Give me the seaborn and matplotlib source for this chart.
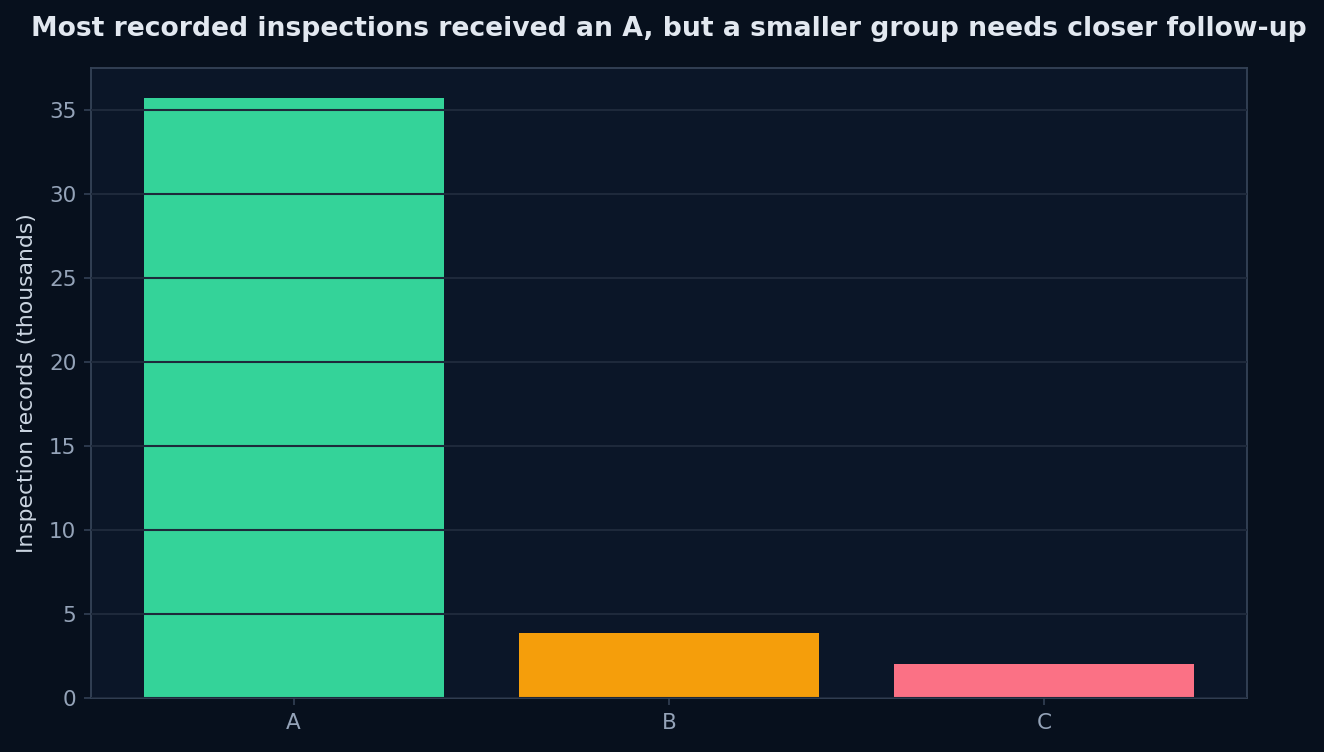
import matplotlib
matplotlib.use("Agg")
import matplotlib.pyplot as plt
import seaborn as sns
import pandas as pd

grades = ["A", "B", "C"]
records_thousands = [35.71, 3.87, 2.02]
bar_colors = ["#34d399", "#f59e0b", "#fb7185"]

title = "Most recorded inspections received an A, but a smaller group needs closer follow-up"
ylabel = "Inspection records (thousands)"

sns.set_theme(style="dark")
plt.rcParams["font.family"] = ["DejaVu Sans"]

fig_bg = "#07101d"
ax_bg = "#0b1628"
grid_c = "#1e293b"
spine_c = "#334155"
tick_c = "#94a3b8"

DPI = 150
fig, ax = plt.subplots(figsize=(1324 / DPI, 752 / DPI), dpi=DPI)
fig.patch.set_facecolor(fig_bg)
ax.set_facecolor(ax_bg)

df = pd.DataFrame({"grade": grades, "records": records_thousands})
sns.barplot(data=df, x="grade", y="records", hue="grade", palette=bar_colors,
            width=0.8, saturation=1, legend=False, ax=ax, zorder=1,
            linewidth=0, edgecolor="none")

ax.set_xlim(-0.54, 2.54)
ax.set_ylim(0, 37.5)
ax.set_yticks([0, 5, 10, 15, 20, 25, 30, 35])
ax.yaxis.grid(True, color=grid_c, linewidth=1.0, zorder=3)
ax.set_axisbelow(False)
ax.xaxis.grid(False)

for s in ax.spines.values():
    s.set_visible(True)
    s.set_color(spine_c)
    s.set_linewidth(0.9)

ax.tick_params(axis="both", labelcolor=tick_c, labelsize=10.3, length=3.5, width=0.8,
               color=spine_c, bottom=True, left=True, pad=3.5)
ax.set_xlabel("")
ax.set_ylabel(ylabel, color="#cbd5e1", fontsize=10.5, labelpad=5.5)
ax.set_title(title, color="#e2e8f0", fontsize=12.8, fontweight="bold", pad=15.5)

fig.subplots_adjust(left=91 / 1324, right=1247 / 1324, top=1 - 68 / 752, bottom=1 - 698 / 752)
fig.savefig("out.png", dpi=DPI, facecolor=fig_bg)
